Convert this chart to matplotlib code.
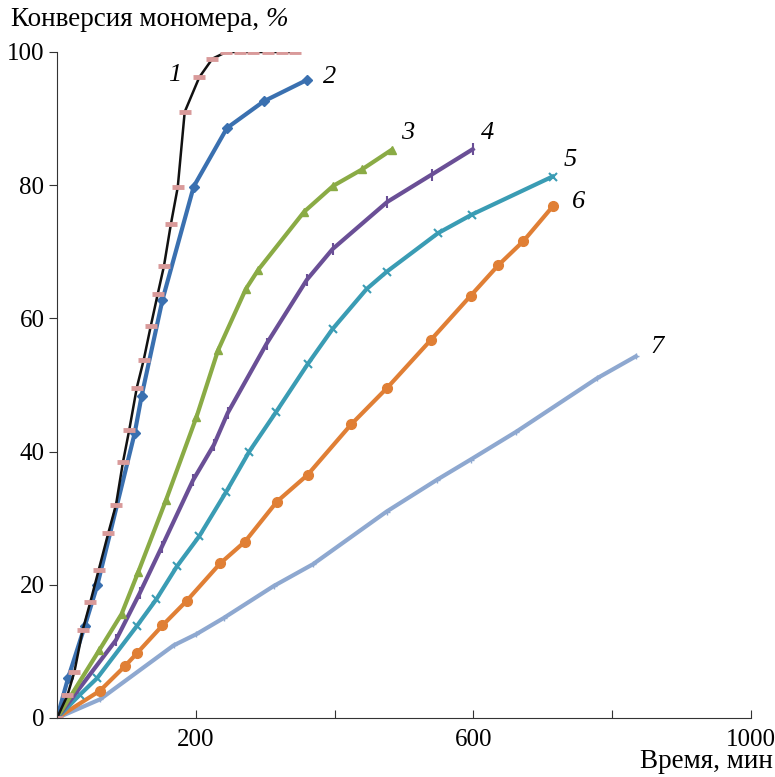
import matplotlib
matplotlib.use('Agg')
import matplotlib.pyplot as plt

# curve 1 (black line + pink dash markers)
t1 = [0, 15, 25, 37, 48, 60, 74, 85, 95, 104, 115, 125, 135, 145, 154, 164, 174, 184, 205, 224, 244, 264, 282, 304, 324, 343]
c1 = [0, 3.4, 6.9, 13.2, 17.4, 22.2, 27.8, 32.0, 38.4, 43.2, 49.6, 53.8, 58.8, 63.6, 67.8, 74.1, 79.7, 91.0, 96.2, 99.0, 100, 100, 100, 100, 100, 100]
# curve 2
t2 = [0, 16, 40, 58, 112, 122, 152, 197, 245, 298, 360]
c2 = [0, 6.0, 13.8, 19.9, 42.8, 48.4, 62.8, 79.8, 88.6, 92.6, 95.8]
# curve 3
t3 = [0, 61, 93, 117, 157, 201, 232, 272, 290, 356, 398, 440, 482]
c3 = [0, 10.2, 15.6, 21.9, 32.7, 45.2, 55.2, 64.4, 67.3, 76.0, 79.9, 82.4, 85.3]
# curve 4
t4 = [0, 85, 119, 151, 196, 226, 246, 302, 360, 397, 476, 540, 599]
c4 = [0, 11.7, 18.7, 25.7, 35.7, 41.0, 45.8, 56.2, 65.8, 70.4, 77.5, 81.6, 85.4]
# curve 5
t5 = [0, 33, 58, 115, 143, 173, 205, 244, 277, 316, 361, 397, 446, 475, 549, 598, 714]
c5 = [0, 3.5, 6.0, 13.8, 17.8, 22.8, 27.3, 34.0, 40.0, 46.0, 53.1, 58.4, 64.4, 67.0, 72.8, 75.6, 81.3]
# curve 6
t6 = [0, 62, 98, 115, 152, 187, 235, 271, 317, 361, 424, 476, 539, 596, 636, 672, 715]
c6 = [0, 4.1, 7.8, 9.7, 13.9, 17.6, 23.2, 26.5, 32.5, 36.5, 44.1, 49.6, 56.8, 63.4, 68.0, 71.6, 76.9]
# curve 7
t7 = [0, 62, 168, 201, 240, 312, 369, 475, 548, 596, 662, 778, 834]
c7 = [0, 2.8, 10.9, 12.6, 15.0, 19.8, 23.1, 31.0, 35.8, 38.8, 43.0, 51.0, 54.3]

curve_labels = ['1', '2', '3', '4', '5', '6', '7']
label_pos = [(170, 96.5), (393, 96.2), (506, 87.8), (621, 87.8), (739, 83.8), (751, 77.5), (864, 55.7)]

serif = ['Liberation Serif', 'DejaVu Serif']
plt.rcParams['font.family'] = serif

fig = plt.figure(figsize=(7.75, 7.77), dpi=100)
ax = fig.add_axes([57 / 775, 59 / 777, 694 / 775, 666 / 777])

ax.plot(t7, c7, color='#8ea8d0', lw=3, marker='+', ms=5, mew=1)
ax.plot(t6, c6, color='#e07f35', lw=3, marker='o', ms=7)
ax.plot(t5, c5, color='#3a9cb4', lw=3, marker='x', ms=6, mew=1.5)
ax.plot(t4, c4, color='#6a4f96', lw=3, marker='|', ms=8, mew=1.5)
ax.plot(t3, c3, color='#8aab45', lw=3, marker='^', ms=6)
ax.plot(t2, c2, color='#3a70b0', lw=3, marker='D', ms=5)
ax.plot(t1, c1, color='#111111', lw=1.8)
ax.plot(t1, c1, color='#d99a9a', lw=0, marker='_', ms=9, mew=3.5)

for lab, (x, y) in zip(curve_labels, label_pos):
    ax.text(x, y, lab, fontsize=19, style='italic', ha='center', va='center')

ax.set_xlim(0, 1000)
ax.set_ylim(0, 100)
ax.set_xticks([0, 200, 400, 600, 800, 1000])
ax.set_xticklabels(['', '200', '', '600', '', '1000'])
ax.set_yticks([0, 20, 40, 60, 80, 100])
for s in ['top', 'right']:
    ax.spines[s].set_visible(False)
for s in ['left', 'bottom']:
    ax.spines[s].set_color('#333333')
ax.tick_params(axis='x', direction='in', length=6, labelsize=18, pad=8, color='#333333')
ax.tick_params(axis='y', direction='out', length=6, labelsize=18, pad=3, color='#333333')

ttl = fig.text(11 / 775, 1 - 20 / 777, 'Конверсия мономера, ', fontsize=19.5, va='center', ha='left')
ax.annotate('%', xy=(1, 0.5), xycoords=ttl, va='center', ha='left', fontsize=19.5, style='italic')
fig.text(1 - 2 / 775, 1 - 762 / 777, 'Время, мин', fontsize=19.5, va='center', ha='right')

fig.savefig('out.png', dpi=100)
